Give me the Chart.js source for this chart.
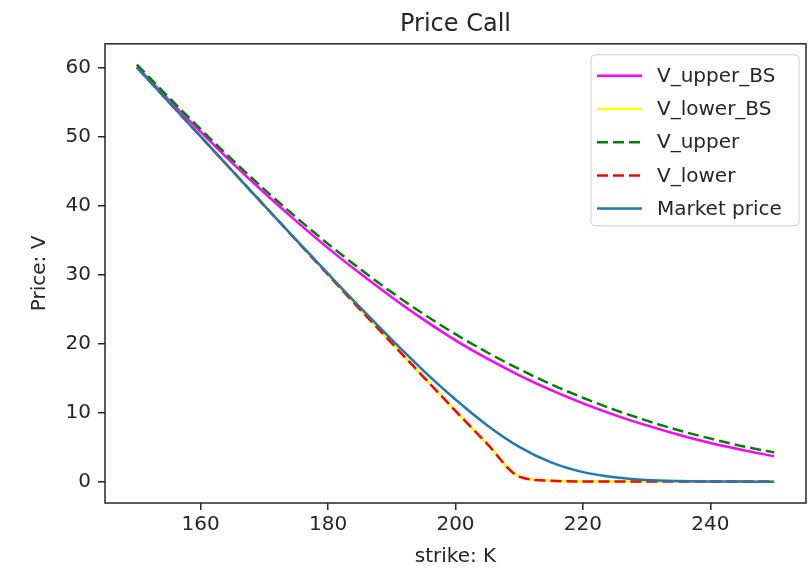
<!DOCTYPE html>
<html>
<head>
<meta charset="utf-8">
<script src="https://cdn.jsdelivr.net/npm/chart.js@4.4.0/dist/chart.umd.min.js"></script>
<style>
  html, body { margin: 0; padding: 0; background: #fff; }
  #wrap { width: 809px; height: 571px; }
</style>
</head>
<body>
<div id="wrap"><canvas id="chart"></canvas></div>
<script>
// values, one point every 5 strikes
const strikes = [150, 155, 160, 165, 170, 175, 180, 185, 190, 195, 200,
                 205, 210, 215, 220, 225, 230, 235, 240, 245, 250];
const vUpperBS = [60.1, 55.3, 50.65, 46.15, 41.85, 37.75, 33.85, 30.2, 26.75, 23.5, 20.5,
                  17.85, 15.45, 13.3, 11.4, 9.7, 8.2, 6.85, 5.65, 4.65, 3.75];
const vLowerBS = [60.0, 55.0, 50.0, 45.0, 40.0, 35.0, 30.0, 25.0, 20.1, 15.2, 10.3,
                  5.5, 0.8, 0.2, 0.1, 0.1, 0.1, 0.1, 0.1, 0.1, 0.1];
const vUpper = [60.4, 55.65, 51.05, 46.6, 42.35, 38.3, 34.45, 30.85, 27.45, 24.3, 21.4,
                18.75, 16.35, 14.15, 12.2, 10.45, 8.9, 7.5, 6.3, 5.2, 4.3];
const vLower = [60.0, 55.0, 50.0, 45.0, 40.0, 35.0, 30.0, 25.0, 20.1, 15.2, 10.3,
                5.5, 0.8, 0.2, 0.1, 0.1, 0.1, 0.1, 0.1, 0.1, 0.1];
const marketPrice = [60.0, 55.0, 50.0, 45.0, 40.0, 35.05, 30.15, 25.3, 20.6, 16.1, 11.95,
                     8.2, 5.1, 2.85, 1.45, 0.7, 0.3, 0.15, 0.1, 0.08, 0.06];
const xTicks = [160, 180, 200, 220, 240];
const yTicks = [0, 10, 20, 30, 40, 50, 60];

const family = "'DejaVu Sans', sans-serif";
const ink = "#262626";

function series(values) {
  return strikes.map((k, i) => ({ x: k, y: values[i] }));
}

function line(label, values, color, dash, order) {
  return {
    label: label,
    data: series(values),
    borderColor: color,
    backgroundColor: color,
    borderWidth: 2.5,
    borderDash: dash,
    pointRadius: 0,
    cubicInterpolationMode: "monotone",
    fill: false,
    order: order,
  };
}

// the four spines, like matplotlib
const framePlugin = {
  id: "frame",
  afterDatasetsDraw(chart) {
    const { ctx, chartArea: a } = chart;
    ctx.save();
    ctx.strokeStyle = ink;
    ctx.lineWidth = 1.5;
    ctx.strokeRect(a.left, a.top, a.right - a.left, a.bottom - a.top);
    ctx.restore();
  },
};

// legend box in the upper right corner of the axes
const legendPlugin = {
  id: "boxLegend",
  afterDraw(chart) {
    const { ctx, chartArea: a } = chart;
    const w = 208, h = 171, pitch = 33.2;
    const x0 = a.right - 7 - w, y0 = a.top + 11;
    ctx.save();
    ctx.beginPath();
    ctx.roundRect(x0, y0, w, h, 4);
    ctx.fillStyle = "rgba(255,255,255,0.85)";
    ctx.fill();
    ctx.strokeStyle = "#d0d0d0";
    ctx.lineWidth = 1;
    ctx.stroke();
    ctx.font = "20px " + family;
    ctx.textBaseline = "middle";
    ctx.fillStyle = ink;
    chart.data.datasets.forEach((ds, i) => {
      const y = y0 + 21 + i * pitch;
      ctx.beginPath();
      ctx.setLineDash(ds.borderDash || []);
      ctx.strokeStyle = ds.borderColor;
      ctx.lineWidth = ds.borderWidth;
      ctx.moveTo(x0 + 6, y);
      ctx.lineTo(x0 + 51, y);
      ctx.stroke();
      ctx.setLineDash([]);
      ctx.fillText(ds.label, x0 + 66, y + 1);
    });
    ctx.restore();
  },
};

const data = {
  datasets: [
    line("V_upper_BS", vUpperBS, "#ff00ff", [], 5),
    line("V_lower_BS", vLowerBS, "#ffff00", [], 4),
    line("V_upper", vUpper, "#008000", [11, 5], 3),
    line("V_lower", vLower, "#ff0000", [11, 5], 2),
    line("Market price", marketPrice, "#1f77b4", [], 1),
  ],
};

const tickFont = { family: family, size: 20 };

const config = {
  type: "line",
  data: data,
  options: {
    responsive: true,
    maintainAspectRatio: false,
    animation: false,
    layout: { padding: { left: 0, right: 3, top: 0, bottom: 0 } },
    plugins: {
      legend: { display: false },
      tooltip: { enabled: false },
      title: {
        display: true,
        text: "Price Call",
        fullSize: false,
        color: ink,
        font: { family: family, size: 24, weight: "normal" },
        padding: { top: 10, bottom: 5 },
      },
    },
    scales: {
      x: {
        type: "linear",
        min: 145,
        max: 255,
        afterBuildTicks: (axis) => { axis.ticks = xTicks.map((v) => ({ value: v })); },
        afterFit: (s) => { s.height = 68; },
        border: { display: false },
        grid: { drawOnChartArea: false, drawTicks: true, tickLength: 7, color: ink, lineWidth: 1.5 },
        ticks: { color: ink, font: tickFont, padding: 3, maxRotation: 0 },
        title: { display: true, text: "strike: K", color: ink, font: tickFont, padding: { top: 0, bottom: 2 } },
      },
      y: {
        type: "linear",
        min: -3.02,
        max: 63.4,
        afterBuildTicks: (axis) => { axis.ticks = yTicks.map((v) => ({ value: v })); },
        afterFit: (s) => { s.width = 105; },
        border: { display: false },
        grid: { drawOnChartArea: false, drawTicks: true, tickLength: 7, color: ink, lineWidth: 1.5 },
        ticks: { color: ink, font: tickFont, padding: 7 },
        title: { display: true, text: "Price: V", color: ink, font: tickFont, padding: { top: 28, bottom: 0 } },
      },
    },
  },
  plugins: [framePlugin, legendPlugin],
};

const ctx = document.getElementById("chart").getContext("2d");
const chart = new Chart(ctx, config);
</script>
</body>
</html>
